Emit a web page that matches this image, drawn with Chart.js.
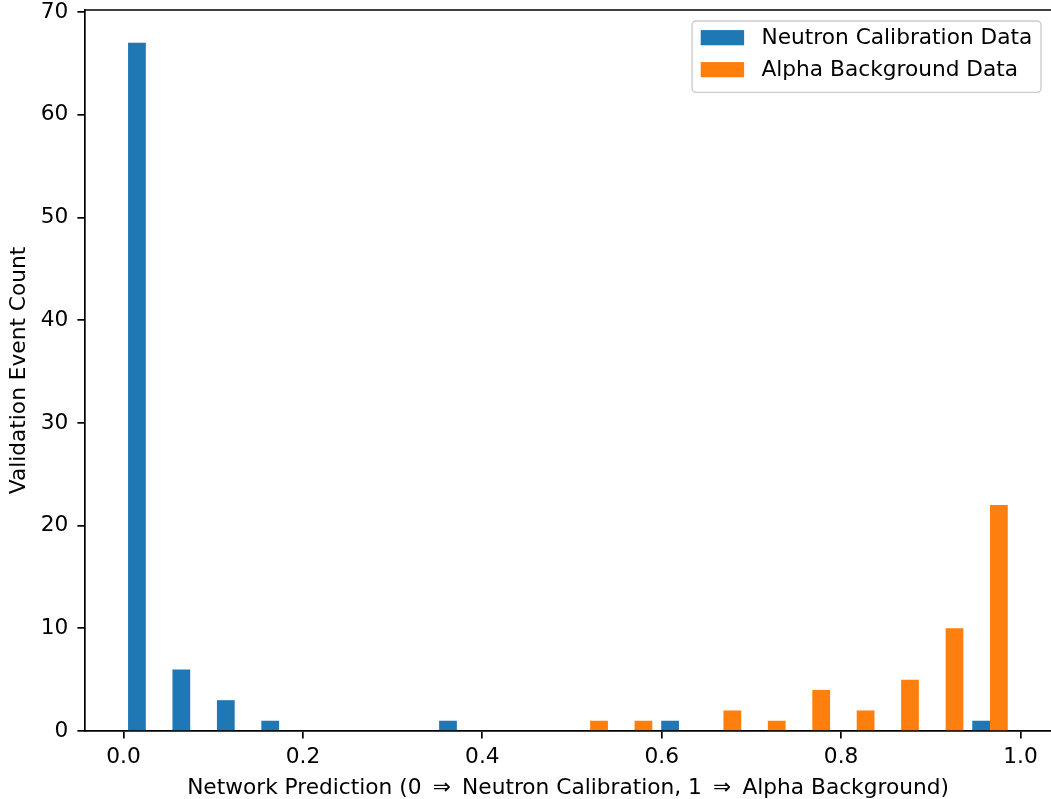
<!DOCTYPE html>
<html>
<head>
<meta charset="utf-8">
<title>Network Prediction Histogram</title>
<script src="https://cdn.jsdelivr.net/npm/chart.js"></script>
<style>
  html, body { margin: 0; padding: 0; background: #fff; }
  #histChart { display: block; }
</style>
</head>
<body>
<canvas id="histChart" width="1051" height="799"></canvas>
<script>
// 20 histogram bins between 0 and ~0.99 (centres)
const binCenters = [0.0248, 0.0743, 0.1239, 0.1734, 0.2229, 0.2725, 0.3220, 0.3716, 0.4211, 0.4706,
                    0.5202, 0.5697, 0.6192, 0.6688, 0.7183, 0.7679, 0.8174, 0.8669, 0.9165, 0.9660];
const neutronCounts = [67, 6, 3, 1, 0, 0, 0, 1, 0, 0, 0, 0, 1, 0, 0, 0, 0, 0, 0, 1];
const alphaCounts   = [0, 0, 0, 0, 0, 0, 0, 0, 0, 0, 1, 1, 0, 2, 1, 4, 2, 5, 10, 22];
const xTickValues = [0.0, 0.2, 0.4, 0.6, 0.8, 1.0];
const yTickValues = [0, 10, 20, 30, 40, 50, 60, 70];

const FONT = 'DejaVu Sans';
const FS = 21.7;
const LW = 1.7;

// top spine + matplotlib style legend inside the axes
const frameAndLegend = {
    id: 'frameAndLegend',
    afterDraw(chart) {
        const ctx = chart.ctx;
        const a = chart.chartArea;
        ctx.save();
        ctx.strokeStyle = '#000';
        ctx.lineWidth = LW;
        ctx.beginPath();
        ctx.moveTo(a.left, a.top);
        ctx.lineTo(a.right + 2, a.top);
        ctx.stroke();

        ctx.font = FS + 'px "' + FONT + '"';
        const sets = chart.data.datasets;
        let maxW = 0;
        sets.forEach(ds => { maxW = Math.max(maxW, ctx.measureText(ds.label).width); });
        const pad = 0.4 * FS, handleW = 2 * FS, handleH = 0.7 * FS, gap = 0.8 * FS;
        const rowH = 32;
        const boxW = pad + handleW + gap + maxW + pad;
        const boxH = pad * 2 + rowH * sets.length - 10;
        const right = a.right - 10;
        const left = right - boxW;
        const top = a.top + 11;

        ctx.beginPath();
        ctx.roundRect(left, top, boxW, boxH, 4);
        ctx.fillStyle = 'rgba(255,255,255,0.8)';
        ctx.fill();
        ctx.strokeStyle = '#cccccc';
        ctx.lineWidth = 1.4;
        ctx.stroke();

        ctx.textBaseline = 'middle';
        ctx.textAlign = 'left';
        sets.forEach((ds, i) => {
            const cy = top + pad + 8 + i * rowH;
            ctx.fillStyle = ds.backgroundColor;
            ctx.fillRect(left + pad, cy - handleH / 2, handleW, handleH);
            ctx.fillStyle = '#000';
            ctx.fillText(ds.label, left + pad + handleW + gap, cy + 1);
        });
        ctx.restore();
    }
};

const ctx = document.getElementById('histChart').getContext('2d');
new Chart(ctx, {
    type: 'bar',
    data: {
        datasets: [{
            label: 'Neutron Calibration Data',
            data: binCenters.map((c, i) => ({ x: c, y: neutronCounts[i] })),
            backgroundColor: '#1f77b4',
            borderWidth: 0
        }, {
            label: 'Alpha Background Data',
            data: binCenters.map((c, i) => ({ x: c, y: alphaCounts[i] })),
            backgroundColor: '#ff7f0e',
            borderWidth: 0
        }]
    },
    options: {
        responsive: false,
        animation: false,
        categoryPercentage: 0.8,
        barPercentage: 1.0,
        layout: { padding: { top: 10, right: 0, left: 0, bottom: 0 } },
        plugins: {
            legend: { display: false },
            tooltip: { enabled: false }
        },
        scales: {
            x: {
                type: 'linear',
                offset: false,
                bounds: 'data',
                min: -0.043,
                max: 1.034,
                afterBuildTicks: s => { s.ticks = xTickValues.map(v => ({ value: v })); },
                afterFit: s => { s.height = 68; s.paddingLeft = 0; s.paddingRight = 0; },
                grid: { offset: false, drawOnChartArea: false, drawTicks: true, tickLength: 7.6, color: '#000', lineWidth: LW },
                border: { display: true, color: '#000', width: LW },
                ticks: {
                    color: '#000',
                    padding: 6,
                    maxRotation: 0,
                    autoSkip: false,
                    font: { family: FONT, size: FS },
                    callback: v => Number(v).toFixed(1)
                },
                title: {
                    display: true,
                    text: 'Network Prediction (0 \u2009\u21D2\u2009 Neutron Calibration, 1 \u2009\u21D2\u2009 Alpha Background)',
                    color: '#000',
                    font: { family: FONT, size: FS },
                    padding: { top: 0, bottom: -2 }
                }
            },
            y: {
                min: 0,
                max: 70.2,
                afterBuildTicks: s => { s.ticks = yTickValues.map(v => ({ value: v })); },
                afterFit: s => { s.width = 85; s.paddingTop = 0; s.paddingBottom = 0; },
                grid: { drawOnChartArea: false, drawTicks: true, tickLength: 7.6, color: '#000', lineWidth: LW },
                border: { display: true, color: '#000', width: LW },
                ticks: {
                    color: '#000',
                    padding: 9,
                    autoSkip: false,
                    font: { family: FONT, size: FS },
                    callback: v => String(v)
                },
                title: {
                    display: true,
                    text: 'Validation Event Count',
                    color: '#000',
                    font: { family: FONT, size: FS },
                    padding: { top: 6, bottom: 0 }
                }
            }
        }
    },
    plugins: [frameAndLegend]
});
</script>
</body>
</html>
